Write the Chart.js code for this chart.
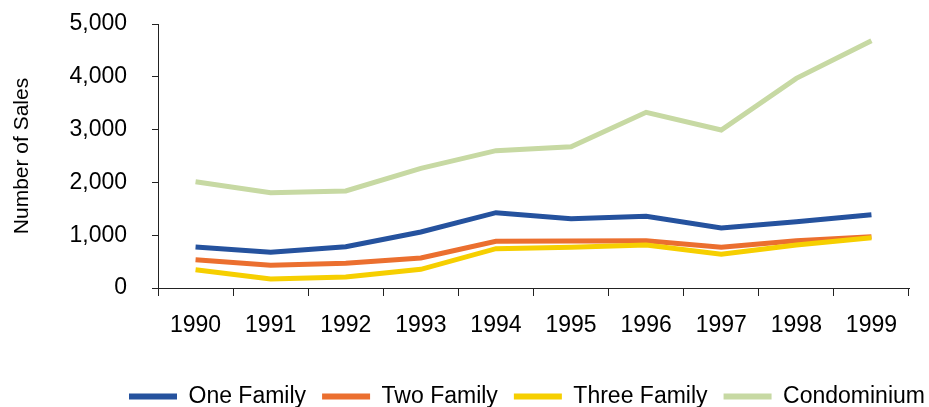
<!DOCTYPE html>
<html>
<head>
<meta charset="utf-8">
<script src="https://cdn.jsdelivr.net/npm/chart.js@4/dist/chart.umd.min.js"></script>
<style>
  html, body { margin: 0; padding: 0; background: #fff; }
  #wrap { width: 929px; height: 407px; }
</style>
</head>
<body>
<div id="wrap"><canvas id="salesChart"></canvas></div>
<script>
// Sales by property type
const years = ['1990', '1991', '1992', '1993', '1994', '1995', '1996', '1997', '1998', '1999'];
const oneFamily = [776, 676, 783, 1060, 1427, 1313, 1357, 1136, 1256, 1389];
const twoFamily = [537, 429, 467, 568, 884, 890, 897, 770, 895, 973];
const threeFamily = [347, 170, 208, 353, 745, 770, 814, 638, 814, 953];
const condominium = [2013, 1806, 1837, 2266, 2601, 2677, 3327, 2992, 3971, 4684];
const yTicks = [0, 1000, 2000, 3000, 4000, 5000];

const axisColor = '#222';
const fontFamily = '"Liberation Sans", Arial, sans-serif';

function series(label, data, color, order) {
    return {
        label: label,
        data: data,
        borderColor: color,
        backgroundColor: color,
        borderWidth: 5,
        pointRadius: 0,
        tension: 0,
        order: order
    };
}

// nudge the legend row so it sits where the original has it
const legendShift = {
    id: 'legendShift',
    afterLayout(chart) {
        const lg = chart.legend;
        if (!lg || !lg.lineWidths) return;
        const pad = lg.options.labels.padding;
        const start = (lg.left + pad + lg.right - lg.lineWidths[0]) / 2;
        const shift = 129 - start;
        lg.left += shift;
        lg.right += shift;
    }
};

new Chart(document.getElementById('salesChart'), {
    type: 'line',
    data: {
        labels: years,
        datasets: [
            series('One Family', oneFamily, '#25529e', 4),
            series('Two Family', twoFamily, '#eb6f2f', 3),
            series('Three Family', threeFamily, '#f6cf00', 2),
            series('Condominium', condominium, '#c7d9a3', 1)
        ]
    },
    options: {
        responsive: true,
        maintainAspectRatio: false,
        animation: false,
        layout: { padding: { top: 24, right: 20, left: 0, bottom: 0 } },
        plugins: {
            tooltip: { enabled: false },
            legend: {
                position: 'bottom',
                maxHeight: 38,
                labels: {
                    color: '#000',
                    font: { family: fontFamily, size: 23 },
                    boxWidth: 48,
                    boxHeight: 6,
                    padding: 16,
                    sort: (a, b) => a.datasetIndex - b.datasetIndex,
                    generateLabels: chart => Chart.defaults.plugins.legend.labels.generateLabels(chart)
                        .map(l => Object.assign(l, { lineWidth: 0 }))
                }
            }
        },
        scales: {
            x: {
                offset: true,
                grid: { offset: true, drawOnChartArea: false, drawTicks: true, tickLength: 8, color: axisColor },
                border: { color: axisColor, width: 1 },
                ticks: { color: '#000', font: { family: fontFamily, size: 23 }, padding: 16, maxRotation: 0 },
                afterFit: scale => { scale.height = 81; }
            },
            y: {
                min: 0,
                max: 5000,
                afterBuildTicks: scale => { scale.ticks = yTicks.map(v => ({ value: v })); },
                grid: { drawOnChartArea: false, drawTicks: true, tickLength: 6, color: axisColor },
                border: { color: axisColor, width: 1 },
                ticks: { color: '#000', font: { family: fontFamily, size: 23 }, padding: 25 },
                title: {
                    display: true,
                    text: 'Number of Sales',
                    color: '#000',
                    font: { family: fontFamily, size: 21 },
                    padding: { top: 10, bottom: 0 }
                },
                afterFit: scale => {
                    scale.width = 158;
                    // tick padding would otherwise push the plot top down
                    scale.paddingTop = 0;
                    scale.paddingBottom = 0;
                }
            }
        }
    },
    plugins: [legendShift]
});
</script>
</body>
</html>
